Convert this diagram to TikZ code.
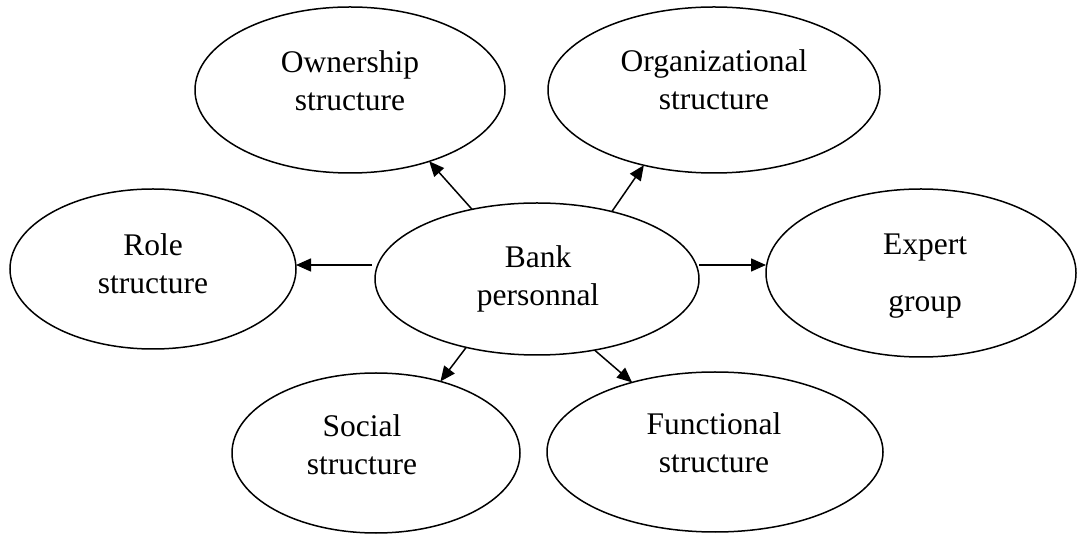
\documentclass[tikz,border=0pt]{standalone}
\usepackage{fontspec}
\setmainfont{Liberation Serif}
\usetikzlibrary{shapes.geometric,arrows.meta}
\tikzset{
  oval/.style={draw, ellipse, line width=1.5pt, inner sep=0pt, outer sep=0pt},
  lbl/.style={anchor=base, align=center, inner sep=0pt, font=\fontsize{31.5}{38}\selectfont},
  arr/.style={line width=1.5pt, -{Triangle[length=15pt,width=13pt]}}
}
\begin{document}
\begin{tikzpicture}[x=1pt,y=1pt]
\useasboundingbox (0,0) rectangle (1078,535);
% ellipses
\node[oval, minimum width=310pt, minimum height=166pt] (own) at (350,445) {};
\node[oval, minimum width=332pt, minimum height=166pt] (org) at (714,445) {};
\node[oval, minimum width=286pt, minimum height=160pt] (role) at (153,266) {};
\node[oval, minimum width=324pt, minimum height=152pt] (bank) at (537,256) {};
\node[oval, minimum width=310pt, minimum height=168pt] (expert) at (921,262) {};
\node[oval, minimum width=288pt, minimum height=160pt] (social) at (376,82) {};
\node[oval, minimum width=336pt, minimum height=160pt] (func) at (715,83) {};
% labels (anchor base = baseline of last line)
\node[lbl] (ownT) at (350,424) {Ownership\\structure};
\node[lbl] (orgT) at (714,425) {Organizational\\structure};
\node[lbl] (roleT) at (153,241) {Role\\structure};
\node[lbl] (bankT) at (538,229) {Bank\\personnal};
\node[lbl] (expertT) at (925,223) {Expert\\[19pt]group};
\node[lbl] (socialT) at (362,60) {Social\\structure};
\node[lbl] (funcT) at (714,62) {Functional\\structure};
% arrows
\draw[arr] (bank.133) -- (own.-42);
\draw[arr] (bank.42) -- (org.-133);
\draw[arr] ([xshift=-3pt,yshift=14pt]bank.west) -- ([yshift=4pt]role.east);
\draw[arr] ([yshift=14pt]bank.east) -- ([yshift=8pt]expert.west);
\draw[arr] (bank.-136) -- (social.48);
\draw[arr] (bank.-51) -- (func.140);
\end{tikzpicture}
\end{document}
